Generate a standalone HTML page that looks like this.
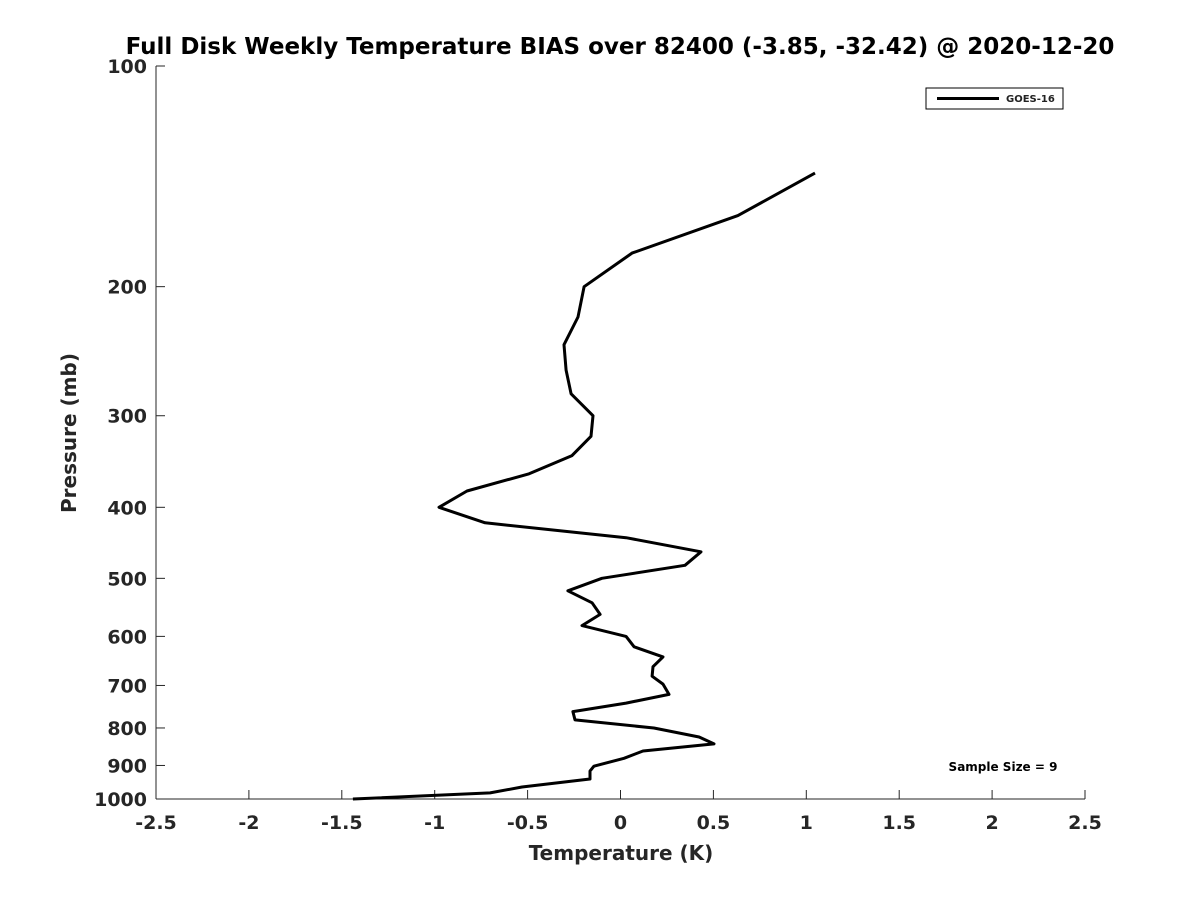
<!DOCTYPE html>
<html><head><meta charset="utf-8"><style>
body{margin:0;background:#fff;}
svg{display:block;font-family:"DejaVu Sans","Liberation Sans",sans-serif;}
</style></head><body>
<svg id="chart" width="1200" height="900" viewBox="0 0 1200 900">
<rect width="1200" height="900" fill="#fff"/>
<text x="620" y="54" text-anchor="middle" font-size="23" font-weight="bold" fill="#000">Full Disk Weekly Temperature BIAS over 82400 (-3.85, -32.42) @ 2020-12-20</text>
<g id="axes"></g>
<g id="series"></g>
<g>
<rect x="926" y="88" width="137" height="21" fill="#fff" stroke="#000" stroke-width="1"/>
<line x1="937" y1="98.5" x2="999" y2="98.5" stroke="#000" stroke-width="3"/>
<text x="1006" y="102" font-size="10" font-weight="bold" fill="#222">GOES-16</text>
</g>
<text x="1003" y="771" text-anchor="middle" font-size="12" font-weight="bold" fill="#000">Sample Size = 9</text>
<text x="621" y="860" text-anchor="middle" font-size="20" font-weight="bold" fill="#262626">Temperature (K)</text>
<text transform="translate(76,433) rotate(-90)" text-anchor="middle" font-size="20" font-weight="bold" fill="#262626">Pressure (mb)</text>
</svg>
<script>
const biasValues=[1.047,0.632,0.062,-0.196,-0.229,-0.304,-0.293,-0.266,-0.148,-0.159,-0.261,-0.492,-0.826,-0.977,-0.729,0.030,0.433,0.347,-0.100,-0.283,-0.153,-0.110,-0.207,0.030,0.073,0.229,0.175,0.170,0.229,0.261,0.030,-0.256,-0.245,0.180,0.423,0.503,0.121,0.019,-0.143,-0.164,-0.164,-0.530,-0.702,-1.440];
const pressureLevels=[140,160,180,200,220,240,260,280,300,320,340,360,380,400,420,440,460,480,500,520,540,560,580,600,620,640,660,680,697,720,740,760,780,800,823,841,860,880,902,916,939,963,981,1000];
const xTicks=[-2.5,-2,-1.5,-1,-0.5,0,0.5,1,1.5,2,2.5];
const yTicks=[100,200,300,400,500,600,700,800,900,1000];
const X0=156,X1=1085,Y0=66,Y1=799;
const xs=v=>X0+(v+2.5)/5*(X1-X0);
const ys=p=>Y0+(Math.log10(p)-2)*(Y1-Y0);
const NS="http://www.w3.org/2000/svg";
const axes=document.getElementById('axes'),series=document.getElementById('series');
function mk(tag,attrs,parent){const e=document.createElementNS(NS,tag);for(const k in attrs)e.setAttribute(k,attrs[k]);parent.appendChild(e);return e;}
const xl=mk('line',{x1:X0,y1:Y1,x2:X1,y2:Y1,stroke:'#262626','stroke-width':1},axes);


const yl=mk('line',{x1:X0,y1:Y0,x2:X0,y2:Y1,stroke:'#262626','stroke-width':1},axes);


xTicks.forEach(v=>{const x=xs(v);
 const t=mk('line',{x1:x,y1:Y1,x2:x,y2:Y1-9,stroke:'#262626'},axes);
 
 
 const l=mk('text',{x:x,y:829,'text-anchor':'middle','font-size':19,'font-weight':'bold',fill:'#262626'},axes);l.textContent=String(v);
 
 
});
yTicks.forEach(p=>{const y=ys(p);
 const t=mk('line',{x1:X0,y1:y,x2:X0+9,y2:y,stroke:'#262626'},axes);
 
 
 const l=mk('text',{x:147,y:y+7,'text-anchor':'end','font-size':19,'font-weight':'bold',fill:'#262626'},axes);l.textContent=String(p);
 
 
});
const pts=biasValues.map((v,i)=>xs(v).toFixed(1)+','+ys(pressureLevels[i]).toFixed(1)).join(' ');
const pl=mk('polyline',{points:pts,fill:'none',stroke:'#000','stroke-width':3,'stroke-linejoin':'round'},series);


</script>
</body></html>
